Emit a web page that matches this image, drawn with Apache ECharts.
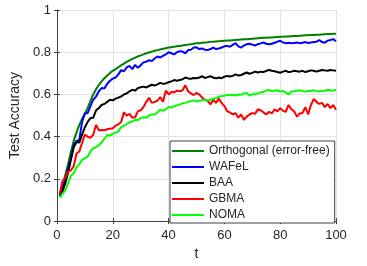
<!DOCTYPE html>
<html>
<head>
<meta charset="utf-8">
<script src="https://cdn.jsdelivr.net/npm/echarts@6/dist/echarts.min.js"></script>
<style>
html,body{margin:0;padding:0;background:#fff;}
#chart{width:367px;height:266px;}
</style>
</head>
<body>
<div id="chart"></div>
<script>
const seriesNames = ['Orthogonal (error-free)', 'WAFeL', 'BAA', 'GBMA', 'NOMA'];
const xTicks = [0, 20, 40, 60, 80, 100];
const yTicks = [0, 0.2, 0.4, 0.6, 0.8, 1];

const orthogonal = [0.12,0.17,0.22,0.27,0.33,0.38,0.42,0.455,0.485,0.51,0.535,0.57,0.6,0.625,0.645,0.662,0.677,0.69,0.702,0.712,
0.72,0.729,0.738,0.746,0.754,0.761,0.768,0.774,0.78,0.785,0.79,0.795,0.799,0.803,0.807,0.81,0.813,0.816,0.819,0.822,
0.824,0.826,0.828,0.83,0.832,0.834,0.836,0.838,0.84,0.842,0.843,0.845,0.846,0.847,0.849,0.85,0.851,0.852,0.853,0.854,
0.855,0.856,0.857,0.858,0.859,0.86,0.861,0.862,0.863,0.864,0.865,0.866,0.867,0.868,0.869,0.87,0.87,0.871,0.872,0.873,
0.873,0.874,0.875,0.876,0.877,0.877,0.878,0.879,0.88,0.88,0.881,0.882,0.883,0.883,0.884,0.885,0.886,0.886,0.887,0.888];

const wafel = [0.12,0.15,0.2,0.25,0.3,0.36,0.38,0.385,0.47,0.51,0.512,0.545,0.575,0.59,0.615,0.63,0.628,0.65,0.665,0.675,
0.68,0.695,0.715,0.71,0.728,0.735,0.72,0.74,0.726,0.738,0.752,0.755,0.762,0.758,0.77,0.78,0.775,0.783,0.79,0.8,
0.795,0.79,0.8,0.805,0.803,0.795,0.81,0.812,0.822,0.823,0.815,0.818,0.812,0.81,0.815,0.822,0.815,0.818,0.822,0.828,
0.83,0.826,0.835,0.843,0.828,0.822,0.832,0.838,0.84,0.836,0.832,0.838,0.842,0.846,0.84,0.838,0.84,0.845,0.85,0.854,
0.846,0.843,0.845,0.842,0.844,0.846,0.843,0.845,0.848,0.844,0.846,0.848,0.85,0.857,0.848,0.845,0.855,0.858,0.862,0.852];

const baa = [0.12,0.14,0.18,0.23,0.29,0.35,0.375,0.372,0.41,0.445,0.47,0.488,0.49,0.525,0.535,0.55,0.555,0.565,0.575,0.572,
0.58,0.585,0.59,0.6,0.605,0.615,0.622,0.618,0.63,0.634,0.637,0.633,0.64,0.646,0.642,0.648,0.655,0.65,0.652,0.658,
0.662,0.668,0.665,0.668,0.672,0.68,0.676,0.674,0.678,0.677,0.68,0.686,0.678,0.682,0.686,0.68,0.676,0.68,0.677,0.684,
0.688,0.685,0.688,0.695,0.69,0.692,0.698,0.704,0.698,0.702,0.708,0.704,0.708,0.706,0.712,0.716,0.712,0.71,0.706,0.703,
0.708,0.712,0.706,0.708,0.712,0.71,0.708,0.712,0.706,0.71,0.714,0.712,0.708,0.712,0.716,0.714,0.712,0.716,0.714,0.712];

const gbma = [0.13,0.19,0.205,0.235,0.24,0.26,0.32,0.33,0.37,0.41,0.4,0.395,0.41,0.455,0.43,0.432,0.43,0.435,0.438,0.44,
0.452,0.458,0.47,0.515,0.5,0.508,0.49,0.492,0.52,0.525,0.54,0.565,0.584,0.56,0.565,0.57,0.588,0.565,0.618,0.6,
0.612,0.61,0.618,0.615,0.62,0.643,0.615,0.605,0.597,0.607,0.6,0.585,0.575,0.57,0.553,0.575,0.56,0.58,0.56,0.545,
0.52,0.515,0.505,0.512,0.49,0.505,0.48,0.495,0.505,0.512,0.508,0.53,0.525,0.515,0.505,0.518,0.51,0.53,0.52,0.535,
0.522,0.518,0.55,0.53,0.52,0.495,0.51,0.512,0.54,0.505,0.55,0.578,0.565,0.555,0.56,0.54,0.555,0.535,0.55,0.527];

const noma = [0.11,0.13,0.145,0.18,0.215,0.228,0.255,0.27,0.29,0.298,0.305,0.33,0.345,0.35,0.36,0.372,0.39,0.408,0.405,0.415,
0.418,0.425,0.445,0.452,0.46,0.468,0.472,0.48,0.478,0.488,0.492,0.49,0.5,0.505,0.505,0.515,0.528,0.522,0.53,0.54,
0.538,0.544,0.548,0.552,0.558,0.56,0.565,0.568,0.572,0.566,0.57,0.572,0.575,0.571,0.575,0.58,0.582,0.59,0.592,0.594,
0.598,0.596,0.598,0.595,0.6,0.598,0.605,0.607,0.595,0.602,0.6,0.605,0.61,0.612,0.618,0.622,0.615,0.618,0.62,0.614,
0.616,0.61,0.6,0.614,0.615,0.618,0.62,0.616,0.612,0.618,0.616,0.62,0.617,0.614,0.616,0.618,0.622,0.62,0.618,0.622];

const colors = ['#007F00', '#0000FF', '#000000', '#FF0000', '#00FF00'];
const allData = [orthogonal, wafel, baa, gbma, noma];

const textColor = '#262626';
const axisColor = '#404040';
const fontFamily = '"Liberation Sans", Arial, Helvetica, sans-serif';

const chart = echarts.init(document.getElementById('chart'), null, {renderer: 'canvas'});

const series = allData.map((arr, i) => ({
  name: seriesNames[i],
  type: 'line',
  data: arr.map((v, k) => [k + 1, v]),
  showSymbol: false,
  symbol: 'none',
  lineStyle: {width: 2, color: colors[i]},
  itemStyle: {color: colors[i]},
  animation: false,
  z: 2 + i
}));

const xMin = xTicks[0], xMax = xTicks[xTicks.length - 1], xInt = xTicks[1] - xTicks[0];
const yMin = yTicks[0], yMax = yTicks[yTicks.length - 1], yInt = 0.2;

chart.setOption({
  animation: false,
  backgroundColor: '#ffffff',
  textStyle: {fontFamily: fontFamily},
  grid: {left: 52, top: 10, right: 31, bottom: 40, containLabel: false},
  legend: {
    orient: 'vertical',
    left: 170,
    top: 141,
    data: seriesNames,
    icon: 'rect',
    itemWidth: 32,
    itemHeight: 2,
    itemGap: 2,
    itemTextGap: 2,
    padding: [3, 5, 1, 2],
    backgroundColor: '#ffffff',
    borderColor: axisColor,
    borderWidth: 1,
    textStyle: {fontSize: 12, color: textColor, fontFamily: fontFamily, lineHeight: 14},
    z: 20
  },
  xAxis: [{
    type: 'value', min: xMin, max: xMax, interval: xInt,
    position: 'bottom',
    name: 't', nameLocation: 'middle', nameGap: 24,
    nameTextStyle: {fontSize: 14, color: textColor, fontFamily: fontFamily},
    axisLine: {show: true, lineStyle: {color: axisColor, width: 1}},
    axisTick: {show: true, inside: true, length: 3, lineStyle: {color: axisColor}},
    axisLabel: {fontSize: 13, color: textColor, margin: 8, fontFamily: fontFamily},
    splitLine: {show: true, lineStyle: {color: '#e3e3e3', width: 1}}
  }, {
    type: 'value', min: xMin, max: xMax, interval: xInt,
    position: 'top',
    axisLine: {show: true, lineStyle: {color: axisColor, width: 1}},
    axisTick: {show: true, inside: true, length: 3, lineStyle: {color: axisColor}},
    axisLabel: {show: false},
    splitLine: {show: false}
  }],
  yAxis: [{
    type: 'value', min: yMin, max: yMax, interval: yInt,
    position: 'left',
    name: 'Test Accuracy', nameLocation: 'middle', nameGap: 25, nameRotate: 90,
    nameTextStyle: {fontSize: 14, color: textColor, fontFamily: fontFamily},
    axisLine: {show: true, lineStyle: {color: axisColor, width: 1}},
    axisTick: {show: true, inside: true, length: 3, lineStyle: {color: axisColor}},
    axisLabel: {fontSize: 13, color: textColor, margin: 6, fontFamily: fontFamily,
      formatter: v => String(Math.round(v * 10) / 10)},
    splitLine: {show: true, lineStyle: {color: '#e3e3e3', width: 1}}
  }, {
    type: 'value', min: yMin, max: yMax, interval: yInt,
    position: 'right',
    axisLine: {show: true, lineStyle: {color: axisColor, width: 1}},
    axisTick: {show: true, inside: true, length: 3, lineStyle: {color: axisColor}},
    axisLabel: {show: false},
    splitLine: {show: false}
  }],
  series: series
});
</script>
</body>
</html>
